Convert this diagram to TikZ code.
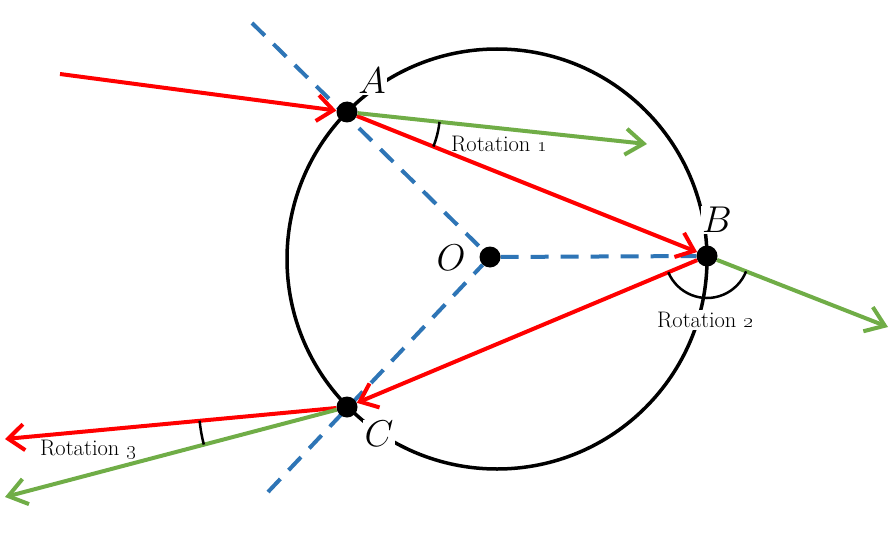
\documentclass[tikz,border=0pt]{standalone}
\usepackage{tikz}
\usetikzlibrary{arrows.meta, backgrounds}
\definecolor{rayred}{RGB}{255,0,0}
\definecolor{raygreen}{RGB}{112,173,71}
\definecolor{normblue}{RGB}{46,117,182}
\tikzstyle{dot} = [circle, fill=black, inner sep=0pt, minimum size=21pt]
\tikzstyle{ray} = [rayred, line width=4pt, -{Straight Barb[length=16pt,width=26pt]}]
\tikzstyle{turned} = [raygreen, line width=4pt, -{Straight Barb[length=18pt,width=26pt]}]
\tikzstyle{normline} = [normblue, line width=4pt, dash pattern=on 18pt off 12pt]
\tikzstyle{turnarc} = [black, line width=2.5pt]
\tikzstyle{letter} = [fill=white, inner sep=1pt, font=\Huge, scale=1.5]
\tikzstyle{rotlabel} = [inner sep=2pt, font=\fontsize{22.5}{26}\selectfont]

\begin{document}
\begin{tikzpicture}[x=1pt, y=1pt]
        \useasboundingbox (0,0) rectangle (890,550);

        \node at (347,438) [dot](A) {};
        \node at (707,294) [dot](B) {};
        \node at (347,143) [dot](C) {};
        \node at (490,293) [dot](O) {};

        \node at (372,469) [letter](lA) {$A$};
        \node at (717,330) [letter](lB) {$B$};
        \node at (379,116) [letter](lC) {$C$};
        \node at (451,292) [letter](lO) {$O$};

        \coordinate (in) at (60,476);
        \coordinate (outA) at (647,406);
        \coordinate (outB) at (888,223);
        \coordinate (outC) at (5,111);
        \coordinate (turnC) at (5,53);
        \coordinate (nA) at (252,527);
        \coordinate (nC) at (268,58);

        \begin{scope}[on background layer]
                \draw[line width=3.5pt] (497,291) circle (210);
                \draw[normline] (nA) -- (O);
                \draw[normline] (nC) -- (O);
                \draw[normline] (O) -- (B);
        \end{scope}

        \draw[ray] (in) -- (A);
        \draw[ray] (A) -- (B);
        \draw[ray] (B) -- (C);
        \draw[ray] (C) -- (outC);
        \draw[turned] (A) -- (outA);
        \draw[turned] (B) -- (outB);
        \draw[turned] (C) -- (turnC);

        \draw[turnarc] (A) ++(-21.8:93) arc[start angle=-21.8, end angle=-6.1, radius=93];
        \draw[turnarc] (B) ++(202.8:42) arc[start angle=202.8, end angle=338.6, radius=42];
        \draw[turnarc] (C) ++(185.3:148) arc[start angle=185.3, end angle=194.7, radius=148];

        \node at (499,406) [rotlabel](r1) {Rotation \oldstylenums{1}};
        \node at (705,230) [rotlabel, fill=white](r2) {Rotation \oldstylenums{2}};
        \node at (88,100) [rotlabel](r3) {Rotation \oldstylenums{3}};

\end{tikzpicture}
\end{document}
